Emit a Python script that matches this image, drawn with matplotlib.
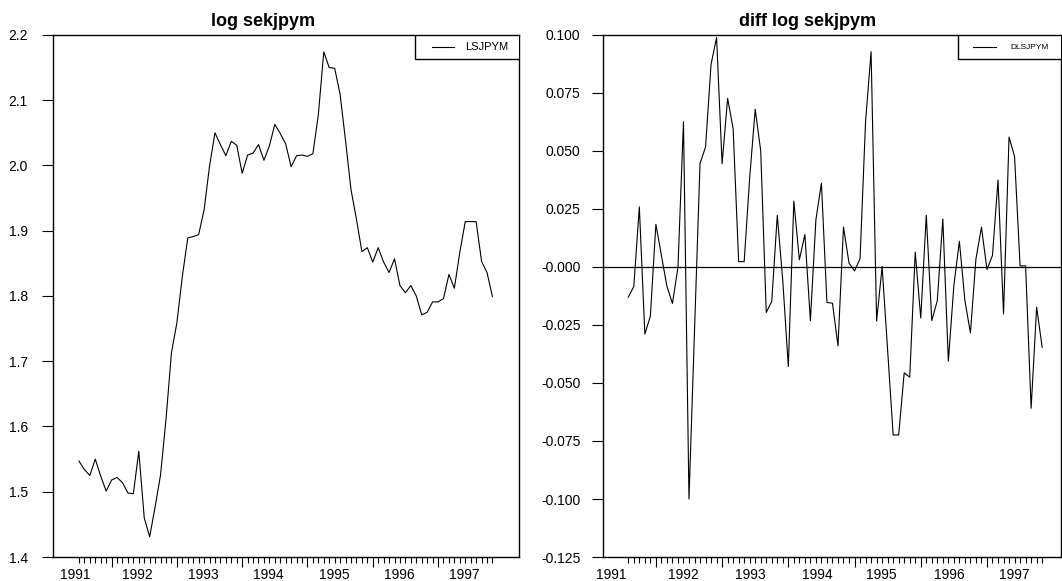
# library imports
import matplotlib
matplotlib.use("Agg")
import matplotlib.pyplot as plt
from matplotlib.patches import Rectangle
from matplotlib.lines import Line2D
from matplotlib.transforms import blended_transform_factory

plt.rcParams["font.family"] = ["Liberation Sans", "DejaVu Sans"]

# monthly log SEK/JPY, month index 0 = first observation
lsjpym = [1.547, 1.534, 1.525, 1.550, 1.524, 1.501, 1.518, 1.522, 1.514, 1.498,
          1.497, 1.562, 1.460, 1.431, 1.477, 1.526, 1.611, 1.713, 1.759, 1.830,
          1.889, 1.891, 1.894, 1.932, 1.999, 2.050, 2.032, 2.015, 2.037, 2.031,
          1.988, 2.016, 2.019, 2.032, 2.008, 2.030, 2.063, 2.049, 2.033, 1.998,
          2.015, 2.016, 2.014, 2.018, 2.078, 2.174, 2.150, 2.149, 2.109, 2.038,
          1.963, 1.918, 1.868, 1.874, 1.852, 1.874, 1.852, 1.836, 1.857, 1.816,
          1.805, 1.816, 1.800, 1.771, 1.775, 1.791, 1.791, 1.796, 1.833, 1.812,
          1.867, 1.914, 1.914, 1.914, 1.853, 1.836, 1.799]

# first difference, starts one month later
dlsjpym = [-0.0130, -0.0084, 0.0259, -0.0289, -0.0212, 0.0184, 0.0050, -0.0083,
           -0.0157, -0.0002, 0.0626, -0.1000, -0.0275, 0.0447, 0.0517, 0.0874,
           0.0989, 0.0445, 0.0727, 0.0596, 0.0023, 0.0023, 0.0385, 0.0680,
           0.0500, -0.0196, -0.0148, 0.0223, -0.0060, -0.0429, 0.0284, 0.0031,
           0.0140, -0.0232, 0.0204, 0.0361, -0.0153, -0.0156, -0.0340, 0.0172,
           0.0017, -0.0017, 0.0036, 0.0628, 0.0928, -0.0233, 0.0002, -0.0360,
           -0.0724, -0.0724, -0.0456, -0.0475, 0.0064, -0.0220, 0.0223, -0.0231,
           -0.0145, 0.0207, -0.0406, -0.0080, 0.0111, -0.0145, -0.0284, 0.0035,
           0.0172, -0.0011, 0.0050, 0.0375, -0.0202, 0.0560, 0.0476, 0.0005,
           0.0005, -0.0609, -0.0173, -0.0346]

years = ["1991", "1992", "1993", "1994", "1995", "1996", "1997"]
year_ticks = [6, 18, 30, 42, 54, 66]

left_ticks = [1.4, 1.5, 1.6, 1.7, 1.8, 1.9, 2.0, 2.1, 2.2]
left_labels = ["1.4", "1.5", "1.6", "1.7", "1.8", "1.9", "2.0", "2.1", "2.2"]
right_ticks = [-0.125, -0.100, -0.075, -0.050, -0.025, 0.0, 0.025, 0.050, 0.075, 0.100]
right_labels = ["-0.125", "-0.100", "-0.075", "-0.050", "-0.025", "-0.000",
                "0.025", "0.050", "0.075", "0.100"]


def style_axis(ax, months, label_pos, ypad):
    """ S-PLUS like time axis: month ticks, longer year ticks, labels between """
    ax.set_xticks(year_ticks)
    ax.set_xticklabels([])
    ax.set_xticks([m for m in months if m not in year_ticks], minor=True)
    ax.tick_params(axis="x", which="major", length=7, width=0.8, direction="out")
    ax.tick_params(axis="x", which="minor", length=4, width=0.8, direction="out")
    ax.tick_params(axis="y", length=8, width=0.8, pad=ypad, labelsize=10)
    trans = blended_transform_factory(ax.transData, ax.transAxes)
    for pos, lab in zip(label_pos, years):
        ax.text(pos, -0.021, lab, transform=trans, ha="center", va="top",
                fontsize=10)
    for s in ax.spines.values():
        s.set_linewidth(1.0)


def add_legend(ax, x0, xl, xt, label, size):
    ax.add_patch(Rectangle((x0, 0.954), 1.2, 0.046, transform=ax.transAxes,
                           facecolor="white", edgecolor="black", lw=1.0,
                           zorder=5, clip_on=True))
    ax.add_line(Line2D(xl, [0.9765, 0.9765], transform=ax.transAxes,
                       color="black", lw=0.8, zorder=6))
    ax.text(xt, 0.9765, label, transform=ax.transAxes, va="center",
            ha="left", fontsize=size, zorder=6)


fig = plt.figure(figsize=(10.62, 5.81), dpi=100)

# left panel: level
ax1 = fig.add_axes([0.0496, 0.0413, 0.4391, 0.8985])
m1 = list(range(len(lsjpym)))
ax1.plot(m1, lsjpym, color="black", lw=0.8)
ax1.set_xlim(-4.83, 80.88)
ax1.set_ylim(1.4, 2.2)
ax1.set_yticks(left_ticks)
ax1.set_yticklabels(left_labels)
style_axis(ax1, m1, [-0.6, 10.8, 22.8, 34.8, 46.9, 58.9, 70.8], 10)
add_legend(ax1, 0.777, [0.8126, 0.8613], 0.884, "LSJPYM", 8)

# right panel: difference
ax2 = fig.add_axes([0.5675, 0.0413, 0.432, 0.8985])
m2 = list(range(1, len(dlsjpym) + 1))
ax2.plot(m2, dlsjpym, color="black", lw=0.8)
ax2.axhline(0.0, color="black", lw=0.9)
ax2.set_xlim(-3.64, 79.5)
ax2.set_ylim(-0.125, 0.100)
ax2.set_yticks(right_ticks)
ax2.set_yticklabels(right_labels)
style_axis(ax2, m2, [-2.0, 11.0, 23.2, 35.3, 46.9, 59.1, 70.9], 8)
add_legend(ax2, 0.775, [0.8077, 0.8572], 0.889, "DLSJPYM", 6)

fig.text(263.5 / 1062, 1 - 26 / 581, "log sekjpym", ha="center",
         va="baseline", fontsize=13, fontweight="bold")
fig.text(808 / 1062, 1 - 26 / 581, "diff log sekjpym", ha="center",
         va="baseline", fontsize=13, fontweight="bold")

plt.savefig("out.png", dpi=100)
plt.close()
